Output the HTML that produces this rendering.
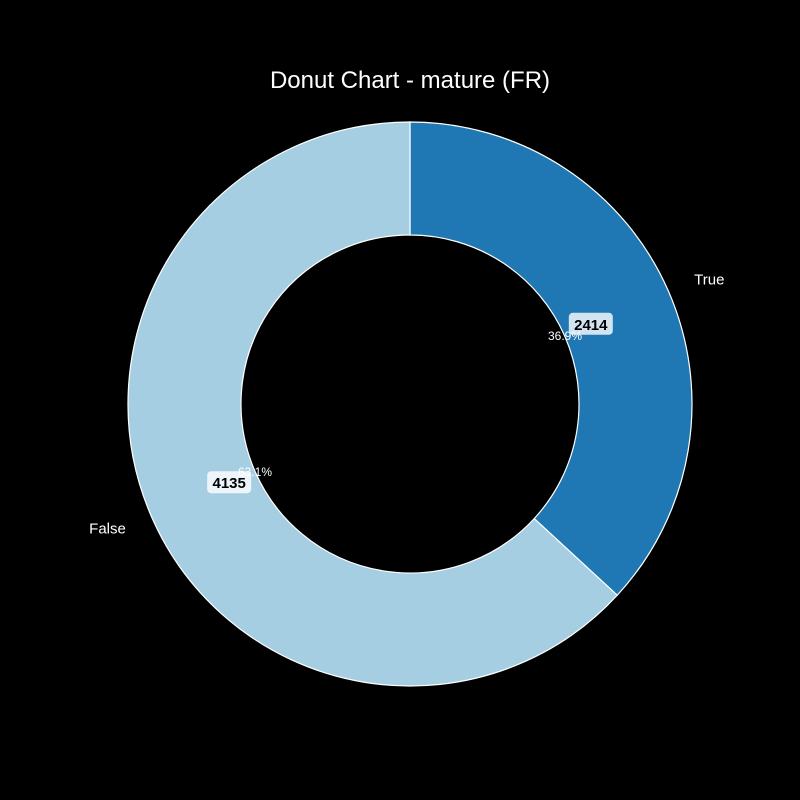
<!DOCTYPE html>
<html><head><meta charset="utf-8"><style>
body{margin:0;background:#000;}
svg{display:block;font-family:"Liberation Sans","DejaVu Sans",sans-serif;}
</style></head><body>
<svg id="chart" width="800" height="800" viewBox="0 0 800 800">
<rect width="800" height="800" fill="#000"/>
<text x="410" y="88" fill="#fff" font-size="24" text-anchor="middle">Donut Chart - mature (FR)</text>
<g id="slices"></g><g id="labels"></g>
</svg>
<script>
const categories = ["True", "False"];
const values = [2414, 4135];
const colors = ["#1f78b4", "#a6cee3"];
const cx = 410, cy = 404, R = 282, r = 169;
const ns = "http://www.w3.org/2000/svg";
const total = values.reduce((a, b) => a + b, 0);
const slicesG = document.getElementById("slices"), labelsG = document.getElementById("labels");
function pt(rad, deg) { const a = deg * Math.PI / 180; return [cx + rad * Math.cos(a), cy - rad * Math.sin(a)]; }
function mk(tag, attrs, parent) { const e = document.createElementNS(ns, tag); for (const k in attrs) e.setAttribute(k, attrs[k]); parent.appendChild(e); return e; }
let start = 90;
values.forEach((v, i) => {
  const sweep = v / total * 360, end = start - sweep, large = sweep > 180 ? 1 : 0;
  const [x1, y1] = pt(R, start), [x2, y2] = pt(R, end), [x3, y3] = pt(r, end), [x4, y4] = pt(r, start);
  const p = mk("path", { d: `M${x1},${y1} A${R},${R} 0 ${large} 1 ${x2},${y2} L${x3},${y3} A${r},${r} 0 ${large} 0 ${x4},${y4} Z`, fill: colors[i], stroke: "#fff", "stroke-width": 1.2 }, slicesG);
  
  
  const mid = start - sweep / 2;
  const [lx, ly] = pt(R * 1.1, mid);
  const t = mk("text", { x: lx, y: ly + 5, fill: "#fff", "font-size": 15, "text-anchor": Math.cos(mid * Math.PI / 180) >= 0 ? "start" : "end" }, labelsG);
  t.textContent = categories[i];
  
  
  const [vx, vy] = pt(R * 0.7, mid);
  const b = mk("rect", { x: vx - 22, y: vy - 12, width: 44, height: 22, rx: 4, fill: "#fff", "fill-opacity": 0.8 }, labelsG);
  
  
  const vt = mk("text", { x: vx, y: vy + 5, fill: "#000", "font-size": 15, "font-weight": "bold", "text-anchor": "middle" }, labelsG);
  vt.textContent = values[i];
  
  
  const [px, py] = pt(R * 0.6, mid);
  const pc = mk("text", { x: px, y: py + 4, fill: "#fff", "font-size": 12, "text-anchor": "middle" }, labelsG);
  pc.textContent = (v / total * 100).toFixed(1) + "%";
  
  
  start = end;
});
</script>
</body></html>
